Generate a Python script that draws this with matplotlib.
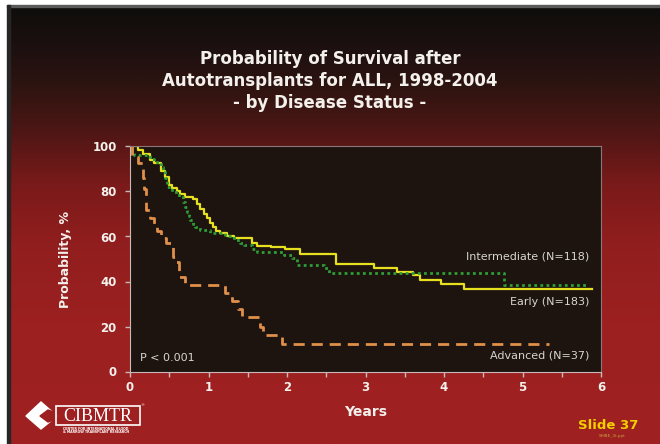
import numpy as np
import matplotlib.pyplot as plt
from matplotlib.patches import Polygon, Rectangle

# Kaplan-Meier estimates (years, survival %), drawn as post-steps
early_t = [0, 0.10, 0.17, 0.25, 0.30, 0.40, 0.45, 0.50, 0.53, 0.60, 0.64, 0.70, 0.80, 0.85,
           0.89, 0.94, 0.98, 1.02, 1.06, 1.10, 1.15, 1.23, 1.32, 1.55, 1.62, 1.79, 1.98,
           2.17, 2.62, 3.11, 3.40, 3.60, 3.70, 3.96, 4.26, 5.89]
early_s = [100, 98.5, 96.5, 94, 92.5, 89, 86.5, 83, 81.4, 80, 79, 77.5, 76.5, 74.5,
           72, 70, 68, 66, 64.4, 62.5, 61.4, 60.2, 59.2, 57, 55.8, 55.2, 54.3,
           52.2, 47.6, 46.1, 44.4, 42.9, 40.7, 38.9, 36.7, 36.7]

inter_t = [0, 0.05, 0.25, 0.30, 0.40, 0.42, 0.45, 0.47, 0.53, 0.62, 0.68, 0.70, 0.72, 0.75,
           0.77, 0.80, 0.83, 0.89, 1.02, 1.21, 1.32, 1.40, 1.45, 1.55, 1.62, 1.96, 2.06,
           2.13, 2.47, 2.53, 4.77, 5.81]
inter_s = [98, 96.2, 94.5, 93.2, 91, 89.6, 86, 82.1, 79.9, 77.7, 75.5, 73, 71, 69,
           67.3, 65.5, 64.4, 62.9, 61.4, 60.2, 58.4, 57, 56.2, 54.5, 53.2, 51.8, 50.3,
           47.3, 45.9, 43.9, 38.4, 38.4]

adv_t = [0, 0.03, 0.10, 0.17, 0.18, 0.20, 0.21, 0.25, 0.30, 0.34, 0.40, 0.46, 0.55, 0.57,
         0.62, 0.70, 1.21, 1.30, 1.38, 1.43, 1.66, 1.70, 1.94, 5.34]
adv_s = [100, 95.5, 92.5, 86, 81, 76, 71.8, 68, 65, 62.5, 59.5, 57.3, 51, 48.5,
         42, 38.4, 35, 31.5, 27.8, 24.4, 19.8, 16.4, 12.1, 12.1]

group_labels = ["Intermediate (N=118)", "Early (N=183)", "Advanced (N=37)"]
label_y = [51, 31, 7]
x_ticks = [0, 1, 2, 3, 4, 5, 6]
y_ticks = [0, 20, 40, 60, 80, 100]

fig = plt.figure(figsize=(6.6, 4.44), dpi=100)

# slide background: dark at the top fading into red
bg = fig.add_axes([0, 0, 1, 1])
bg.set_xlim(0, 660)
bg.set_ylim(444, 0)
bg.axis("off")
stop_y = [7, 40, 80, 120, 180, 240, 320, 444]
stop_rgb = np.array([[16, 14, 12], [28, 16, 16], [45, 20, 16], [72, 22, 20],
                     [122, 26, 26], [145, 30, 30], [156, 32, 32], [160, 32, 32]]) / 255
rows = np.arange(444)
grad = np.stack([np.interp(rows, stop_y, stop_rgb[:, k]) for k in range(3)], axis=-1)
bg.imshow(grad[:, None, :], extent=[10, 660, 444, 7], aspect="auto", interpolation="bilinear")
bg.add_patch(Rectangle((0, 0), 660, 5, color="white"))
bg.add_patch(Rectangle((0, 0), 7, 444, color="white"))
bg.add_patch(Rectangle((7, 5), 653, 2, color="#5a5a5a"))
bg.add_patch(Rectangle((7, 5), 3, 439, color="#262626"))

# CIBMTR logo
bg.add_patch(Polygon([[26, 416], [41, 402], [57, 416], [41, 429]], closed=True, color="white"))
bg.add_patch(Polygon([[40, 416], [48, 410], [57, 413], [57, 419], [48, 422]], closed=True,
                     color="#9c2020"))
bg.add_patch(Rectangle((56, 406), 84, 19, fill=False, ec="white", lw=1.2))
bg.text(98, 416, "CIBMTR", color="white", fontsize=13, family="Liberation Serif",
        ha="center", va="center")
bg.text(142, 405, "®", color="white", fontsize=3, ha="center", va="center")
bg.text(96, 428.5, "CENTER FOR INTERNATIONAL BLOOD", color="white", fontsize=2.3,
        ha="center", va="center", fontweight="bold")
bg.text(96, 432, "& MARROW TRANSPLANT RESEARCH", color="white", fontsize=2.3,
        ha="center", va="center", fontweight="bold")

bg.text(608, 425, "Slide 37", color="#f2d000", fontsize=9.5, fontweight="bold",
        ha="center", va="center")
bg.text(612, 436, "SHIBE_3t.ppt", color="#c8a040", fontsize=3, ha="center", va="center")

fig.text(0.5, 1 - 59 / 444, "Probability of Survival after", color="#f4f0ec",
         fontsize=12, fontweight="bold", ha="center", va="center")
fig.text(0.5, 1 - 81 / 444, "Autotransplants for ALL, 1998-2004", color="#f4f0ec",
         fontsize=12, fontweight="bold", ha="center", va="center")
fig.text(0.5, 1 - 103 / 444, "- by Disease Status -", color="#f4f0ec",
         fontsize=12, fontweight="bold", ha="center", va="center")

ax = fig.add_axes([130 / 660, 1 - 371.5 / 444, 471 / 660, 225 / 444])
ax.set_facecolor("#1d1410")
ax.step(early_t, early_s, where="post", color="#e6e020", lw=1.6)
ax.step(inter_t, inter_s, where="post", color="#2e9e36", lw=2, linestyle=(0, (1, 1.2)))
ax.step(adv_t, adv_s, where="post", color="#e0904a", lw=2, linestyle=(0, (4, 2.5)))

for lab, yy in zip(group_labels, label_y):
    ax.text(5.85, yy, lab, color="#d8d4d0", fontsize=8, ha="right", va="center")
ax.text(0.13, 6, "P < 0.001", color="#d8d4d0", fontsize=8, ha="left", va="center")

ax.set_xlim(0, 6)
ax.set_ylim(0, 100)
ax.set_xticks(x_ticks)
ax.set_xticks(np.arange(0, 6.01, 0.5), minor=True)
ax.set_yticks(y_ticks)
ax.tick_params(axis="both", colors="#c8b8b8", length=3.5, width=1, labelcolor="#f4f0ec",
               labelsize=8.5, pad=6)
ax.tick_params(axis="x", pad=3)
ax.tick_params(axis="x", which="minor", colors="#c8b8b8", length=3.5, width=1)
for t in ax.get_xticklabels() + ax.get_yticklabels():
    t.set_fontweight("bold")
for side in ["left", "bottom"]:
    ax.spines[side].set_color("#c8b8b8")
for side in ["top", "right"]:
    ax.spines[side].set_color("#8a7878")

ax.set_xlabel("Years", color="#f4f0ec", fontsize=10, fontweight="bold", labelpad=8)
ax.set_ylabel("Probability, %", color="#f4f0ec", fontsize=9, fontweight="bold", labelpad=15)

fig.savefig("out.png", dpi=100)
